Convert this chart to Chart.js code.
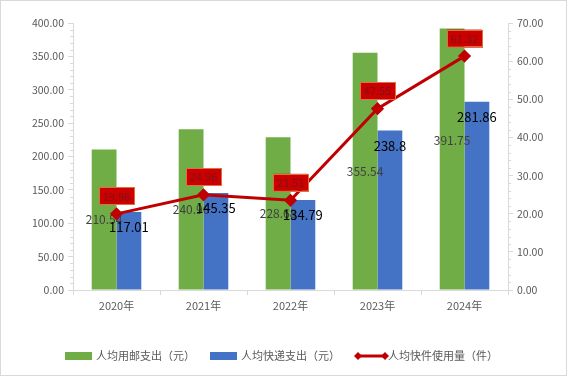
<!DOCTYPE html>
<html><head><meta charset="utf-8">
<script src="https://cdn.jsdelivr.net/npm/chart.js@4.4.1/dist/chart.umd.min.js"></script>
<style>html,body{margin:0;padding:0;background:#fff}canvas{display:block}</style>
</head><body>
<canvas id="c" width="567" height="376"></canvas>
<script>
const categories = ['2020年','2021年','2022年','2023年','2024年'];
const postalSpend = [210.54, 240.96, 228.68, 355.54, 391.75];
const expressSpend = [117.01, 145.35, 134.79, 238.8, 281.86];
const parcelsPerCapita = [19.96, 24.96, 23.51, 47.55, 61.32];
const seriesNames = ['人均用邮支出（元）','人均快递支出（元）','人均快件使用量（件）'];
const leftTicks = {min:0, max:400, step:50};
const rightTicks = {min:0, max:70, step:10};

const GREEN = '#70AD47', BLUE = '#4472C4', RED = '#C00000';
const AXIS = '#D9D9D9', TXT = '#595959';
const FONT = '"Noto Sans CJK SC", "Noto Sans", sans-serif';
const greenLabelDy = [0,0,0,0,-19];

const plugin = {
  id:'custom',
  beforeDatasetDraw(chart, args){
    if (args.index !== 2) return;
    const ctx = chart.ctx;
    const ys = chart.scales.y;
    ctx.save();
    ctx.textAlign='center'; ctx.textBaseline='middle';
    [0,1].forEach(di=>{
      const ds = chart.data.datasets[di];
      chart.getDatasetMeta(di).data.forEach((el,i)=>{
        const v = ds.data[i];
        let y;
        if (di === 0) { y = ys.getPixelForValue(v/2) + greenLabelDy[i]; ctx.fillStyle='#404040'; ctx.font='12px '+FONT; }
        else { y = el.y + 15; ctx.fillStyle='#000000'; ctx.font='13px '+FONT; }
        ctx.fillText(String(v), el.x, y);
      });
    });
    ctx.restore();
  },
  afterDatasetsDraw(chart){
    const ctx = chart.ctx;
    const meta = chart.getDatasetMeta(2);
    ctx.save();
    ctx.font='11px '+FONT;
    ctx.textAlign='center'; ctx.textBaseline='middle';
    meta.data.forEach((el,i)=>{
      const cx = el.x, cy = el.y - 18;
      const w = 35, h = 17;
      ctx.fillStyle='#CC0000';
      ctx.fillRect(cx-w/2, cy-h/2, w, h);
      ctx.strokeStyle='#E0703A'; ctx.lineWidth=1;
      ctx.strokeRect(Math.round(cx-w/2)+0.5, Math.round(cy-h/2)+0.5, w, h);
      ctx.fillStyle='#7A1414';
      ctx.fillText(parcelsPerCapita[i].toFixed(2), cx, cy+0.5);
    });
    ctx.restore();
  },
  afterDraw(chart){
    const ctx = chart.ctx;
    ctx.save();
    const yl = chart.scales.y, yr = chart.scales.y1;
    ctx.strokeStyle=AXIS; ctx.lineWidth=1;
    ctx.beginPath();
    for (let v=leftTicks.min; v<=leftTicks.max; v+=10){
      if (v % leftTicks.step === 0) continue;
      const y = Math.round(yl.getPixelForValue(v))+0.5;
      ctx.moveTo(yl.right-3, y); ctx.lineTo(yl.right, y);
    }
    for (let v=rightTicks.min; v<=rightTicks.max; v+=2){
      if (v % rightTicks.step === 0) continue;
      const y = Math.round(yr.getPixelForValue(v))+0.5;
      ctx.moveTo(yr.left, y); ctx.lineTo(yr.left+3, y);
    }
    ctx.stroke();
    ctx.font='11px '+FONT;
    ctx.textBaseline='middle'; ctx.textAlign='left';
    const ly = 356;
    const items = [
      {name:seriesNames[0], kind:'box', color:GREEN},
      {name:seriesNames[1], kind:'box', color:BLUE},
      {name:seriesNames[2], kind:'line', color:RED}
    ];
    const symW = [27,27,33], gapAfterSym=[4,4,0], gapAfterText=15;
    let total = 0;
    items.forEach((it,i)=>{ total += symW[i]+gapAfterSym[i]+ctx.measureText(it.name).width + (i<2?gapAfterText:0); });
    let x = Math.round(chart.width/2 - total/2) - 2;
    items.forEach((it,i)=>{
      if (it.kind==='box'){
        ctx.fillStyle=it.color; ctx.fillRect(x, ly-4, symW[i], 8);
      } else {
        ctx.strokeStyle=it.color; ctx.lineWidth=3;
        ctx.beginPath(); ctx.moveTo(x+3, ly); ctx.lineTo(x+symW[i]-3, ly); ctx.stroke();
        ctx.fillStyle=it.color;
        [x+3, x+symW[i]-3].forEach(px=>{
          ctx.beginPath(); ctx.moveTo(px, ly-4); ctx.lineTo(px+4, ly); ctx.lineTo(px, ly+4); ctx.lineTo(px-4, ly); ctx.closePath(); ctx.fill();
        });
      }
      x += symW[i]+gapAfterSym[i];
      ctx.fillStyle=TXT;
      ctx.fillText(it.name, x, ly);
      x += ctx.measureText(it.name).width + gapAfterText;
    });
    ctx.strokeStyle=AXIS; ctx.lineWidth=1;
    ctx.strokeRect(0.5,0.5,chart.width-1,chart.height-1);
    ctx.restore();
  }
};

new Chart(document.getElementById('c'), {
  data:{
    labels:categories,
    datasets:[
      {type:'bar', label:seriesNames[0], data:postalSpend, backgroundColor:GREEN, yAxisID:'y', order:1,
       categoryPercentage:0.57, barPercentage:1},
      {type:'bar', label:seriesNames[1], data:expressSpend, backgroundColor:BLUE, yAxisID:'y', order:1,
       categoryPercentage:0.57, barPercentage:1},
      {type:'line', label:seriesNames[2], data:parcelsPerCapita, borderColor:RED, backgroundColor:RED,
       borderWidth:3, pointStyle:'rectRot', pointRadius:4.5, pointHoverRadius:4.5, yAxisID:'y1', order:0, tension:0}
    ]
  },
  options:{
    responsive:false, animation:false, devicePixelRatio:1,
    layout:{padding:{left:0,right:0,top:23,bottom:56}},
    plugins:{legend:{display:false}, tooltip:{enabled:false}},
    scales:{
      x:{
        offset:true,
        grid:{offset:true, drawOnChartArea:false, drawTicks:true, tickLength:5, color:AXIS},
        border:{color:AXIS},
        ticks:{color:TXT, font:{size:11, family:FONT}, padding:4, maxRotation:0},
        afterFit(s){ s.height = 30; }
      },
      y:{
        position:'left', min:leftTicks.min, max:leftTicks.max,
        grid:{drawOnChartArea:false, drawTicks:true, tickLength:5, color:AXIS},
        border:{color:AXIS},
        ticks:{stepSize:leftTicks.step, color:TXT, font:{size:10.5, family:FONT}, padding:4,
               callback:v=>Number(v).toFixed(2)},
        afterFit(s){ s.width = 73; }
      },
      y1:{
        position:'right', min:rightTicks.min, max:rightTicks.max,
        grid:{drawOnChartArea:false, drawTicks:true, tickLength:5, color:AXIS},
        border:{color:AXIS},
        ticks:{stepSize:rightTicks.step, color:TXT, font:{size:10.5, family:FONT}, padding:4,
               callback:v=>Number(v).toFixed(2)},
        afterFit(s){ s.width = 59; }
      }
    }
  },
  plugins:[plugin]
});
</script>
</body></html>
